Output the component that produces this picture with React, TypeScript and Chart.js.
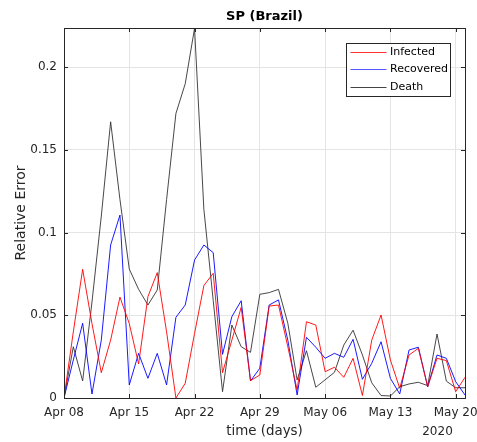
import React, { useEffect, useRef } from "react";
import { Chart, registerables } from "chart.js";

Chart.register(...registerables);

// ---- data ----
const dates = [
  "Apr 08", "Apr 09", "Apr 10", "Apr 11", "Apr 12", "Apr 13", "Apr 14",
  "Apr 15", "Apr 16", "Apr 17", "Apr 18", "Apr 19", "Apr 20", "Apr 21",
  "Apr 22", "Apr 23", "Apr 24", "Apr 25", "Apr 26", "Apr 27", "Apr 28",
  "Apr 29", "Apr 30", "May 01", "May 02", "May 03", "May 04", "May 05",
  "May 06", "May 07", "May 08", "May 09", "May 10", "May 11", "May 12",
  "May 13", "May 14", "May 15", "May 16", "May 17", "May 18", "May 19",
  "May 20", "May 21",
];

const infected = [
  0, 0.04, 0.0778, 0.045, 0.0153, 0.035, 0.061, 0.045, 0.0206, 0.0613,
  0.0758, 0.04, 0, 0.0089, 0.039, 0.068, 0.0754, 0.0153, 0.035, 0.0548,
  0.0105, 0.0139, 0.0556, 0.0562, 0.031, 0.0048, 0.0461, 0.0441, 0.0159, 0.0186,
  0.0125, 0.024, 0.0015, 0.035, 0.0502, 0.023, 0.0059, 0.026, 0.03, 0.0068,
  0.024, 0.0226, 0.0038, 0.0125,
];

const recovered = [
  0, 0.023, 0.0452, 0.0024, 0.035, 0.0925, 0.1106, 0.0079, 0.027, 0.0119,
  0.027, 0.0079, 0.0488, 0.0562, 0.0834, 0.0925, 0.0879, 0.0264, 0.0492, 0.0588,
  0.0103, 0.018, 0.0562, 0.0593, 0.035, 0.0018, 0.0367, 0.0307, 0.024, 0.027,
  0.0246, 0.0355, 0.0113, 0.021, 0.034, 0.0119, 0.0024, 0.029, 0.0307, 0.0068,
  0.026, 0.024, 0.0099, 0.0018,
];

const death = [
  0, 0.031, 0.0103, 0.058, 0.11, 0.167, 0.12, 0.078, 0.0657, 0.0562,
  0.0653, 0.12, 0.172, 0.19, 0.2235, 0.114, 0.059, 0.0038, 0.0441, 0.031,
  0.0276, 0.0627, 0.0637, 0.0657, 0.0452, 0.0109, 0.0286, 0.0065, 0.011, 0.0155,
  0.032, 0.041, 0.026, 0.0092, 0.0015, 0.0012, 0.0068, 0.0085, 0.0095, 0.0075,
  0.0387, 0.0102, 0.0062, 0.0062,
];

const xTickDays = [0, 7, 14, 21, 28, 35, 42];
const xTickLabels = ["Apr 08", "Apr 15", "Apr 22", "Apr 29", "May 06", "May 13", "May 20"];
const yTickValues = [0, 0.05, 0.1, 0.15, 0.2];
const yTickLabels = ["0", "0.05", "0.1", "0.15", "0.2"];
const yMax = 0.2237;

const seriesNames = ["Infected", "Recovered", "Death"];
const seriesColors = ["#ff0000", "#0000ff", "#333333"];
const legendColors = ["#ff3030", "#5555ff", "#444444"];

const FONT = "'DejaVu Sans', sans-serif";
const AXIS = "#262626";

const toPoints = (arr: number[]) => dates.map((_, i) => ({ x: i, y: arr[i] }));

const decorations = {
  id: "matlabDecor",
  afterDraw(chart: any) {
    const { ctx, chartArea } = chart;
    const { left, right, top, bottom } = chartArea;
    const xs = chart.scales.x;
    const ys = chart.scales.y;
    ctx.save();
    // box
    ctx.strokeStyle = AXIS;
    ctx.lineWidth = 1;
    ctx.strokeRect(Math.round(left) + 0.5, Math.round(top) + 0.5, Math.round(right - left), Math.round(bottom - top));
    // inward ticks
    const tl = 4;
    ctx.beginPath();
    xTickDays.forEach((d) => {
      const px = Math.round(xs.getPixelForValue(d)) + 0.5;
      ctx.moveTo(px, bottom);
      ctx.lineTo(px, bottom - tl);
      ctx.moveTo(px, top);
      ctx.lineTo(px, top + tl);
    });
    yTickValues.forEach((v) => {
      const py = Math.round(ys.getPixelForValue(v)) + 0.5;
      ctx.moveTo(left, py);
      ctx.lineTo(left + tl, py);
      ctx.moveTo(right, py);
      ctx.lineTo(right - tl, py);
    });
    ctx.stroke();

    // title
    const cx = (left + right) / 2;
    ctx.fillStyle = "#000000";
    ctx.font = `bold 13px ${FONT}`;
    ctx.textAlign = "center";
    ctx.textBaseline = "middle";
    ctx.fillText("SP (Brazil)", cx, 17);

    // x label
    ctx.fillStyle = AXIS;
    ctx.font = `13.4px ${FONT}`;
    ctx.fillText("time (days)", cx, 432);
    // year
    ctx.font = `12px ${FONT}`;
    ctx.fillText("2020", 437.5, 432);

    // y label
    ctx.save();
    ctx.translate(21.5, (top + bottom) / 2);
    ctx.rotate(-Math.PI / 2);
    ctx.font = `14px ${FONT}`;
    ctx.fillText("Relative Error", 0, 0);
    ctx.restore();

    // legend
    const lx = 346.5, ly = 43.5, lw = 104, lh = 53;
    ctx.fillStyle = "#ffffff";
    ctx.fillRect(lx, ly, lw, lh);
    ctx.strokeStyle = AXIS;
    ctx.lineWidth = 1;
    ctx.strokeRect(lx, ly, lw, lh);
    const rows = [52.3, 69.3, 86.7];
    ctx.font = `11px ${FONT}`;
    ctx.textAlign = "left";
    ctx.textBaseline = "middle";
    seriesNames.forEach((name, i) => {
      ctx.strokeStyle = legendColors[i];
      ctx.lineWidth = 1;
      ctx.beginPath();
      ctx.moveTo(350.5, Math.round(rows[i]) + 0.5);
      ctx.lineTo(386.5, Math.round(rows[i]) + 0.5);
      ctx.stroke();
      ctx.fillStyle = "#000000";
      ctx.fillText(name, 390, rows[i]);
    });
    ctx.restore();
  },
};

export default function App() {
  const ref = useRef<HTMLCanvasElement | null>(null);

  useEffect(() => {
    if (!ref.current) return;
    const chart = new Chart(ref.current, {
      type: "line",
      data: {
        datasets: [infected, recovered, death].map((arr, i) => ({
          label: seriesNames[i],
          data: toPoints(arr),
          borderColor: seriesColors[i],
          backgroundColor: seriesColors[i],
          borderWidth: 0.9,
          pointRadius: 0,
          tension: 0,
          fill: false,
        })),
      },
      options: {
        responsive: false,
        animation: false,
        devicePixelRatio: 1,
        layout: { padding: { left: 0, right: 12, top: 28, bottom: 0 } },
        plugins: {
          legend: { display: false },
          title: { display: false },
          tooltip: { enabled: false },
        },
        scales: {
          x: {
            type: "linear",
            min: 0,
            max: dates.length - 1,
            afterBuildTicks: (s: any) => {
              s.ticks = xTickDays.map((v) => ({ value: v }));
            },
            afterFit: (s: any) => {
              s.height = 44;
              s.paddingLeft = 0;
              s.paddingRight = 0;
            },
            ticks: {
              callback: (v: any) => {
                const k = xTickDays.indexOf(Number(v));
                return k >= 0 ? xTickLabels[k] : "";
              },
              autoSkip: false,
              maxRotation: 0,
              padding: 8,
              color: AXIS,
              font: { family: FONT, size: 12 },
            },
            grid: { color: "#e4e4e4", drawTicks: false, lineWidth: 1 },
            border: { display: false },
          },
          y: {
            min: 0,
            max: yMax,
            afterBuildTicks: (s: any) => {
              s.ticks = yTickValues.map((v) => ({ value: v }));
            },
            afterFit: (s: any) => {
              s.width = 64;
              s.paddingTop = 0;
              s.paddingBottom = 0;
            },
            ticks: {
              callback: (v: any) => {
                const k = yTickValues.findIndex((t) => Math.abs(t - Number(v)) < 1e-9);
                return k >= 0 ? yTickLabels[k] : "";
              },
              padding: 7,
              color: AXIS,
              font: { family: FONT, size: 12 },
            },
            grid: { color: "#e4e4e4", drawTicks: false, lineWidth: 1 },
            border: { display: false },
          },
        },
      },
      plugins: [decorations],
    });
    return () => chart.destroy();
  }, []);

  return (
    <div style={{ position: "absolute", left: 0, top: 0, width: 477, height: 442, background: "#ffffff" }}>
      <canvas ref={ref} width={477} height={442} style={{ width: 477, height: 442, display: "block" }} />
    </div>
  );
}
